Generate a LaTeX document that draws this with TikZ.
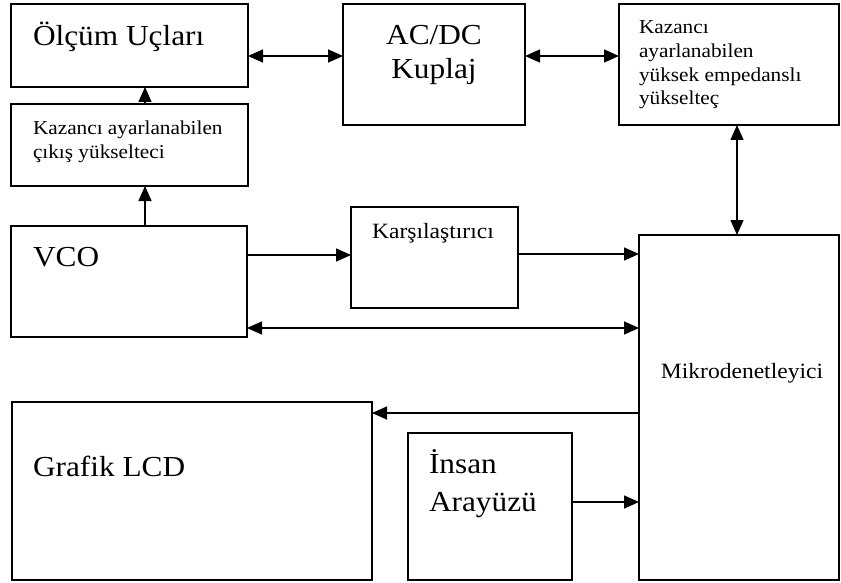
\documentclass[tikz,border=0pt]{standalone}
\usepackage{fontspec}
\setmainfont[FakeStretch=1.08]{Liberation Serif}
\usetikzlibrary{arrows.meta}

\tikzset{
  box/.style={draw, line width=1.5pt, rectangle, inner sep=0pt, outer sep=0pt},
  txt/.style={inner sep=0pt, outer sep=0pt},
  big/.style={txt, font=\fontsize{29}{34}\selectfont},
  mid/.style={txt, font=\fontsize{21.8}{25}\selectfont},
  small/.style={txt, font=\fontsize{19.7}{24}\selectfont},
  tip/.tip={Triangle[length=15pt,width=13pt]},
  arr/.style={-tip, line width=1.5pt},
  darr/.style={tip-tip, line width=1.5pt}
}

\begin{document}
\begin{tikzpicture}[x=1pt,y=-1pt]
\useasboundingbox (0,0) rectangle (841,583);

% blocks
\node[box, minimum width=237, minimum height=83]  (olcum) at (129.5,45.5) {};
\node[box, minimum width=237, minimum height=82]  (cikis) at (129.5,145) {};
\node[box, minimum width=182, minimum height=121] (acdc)  at (434,64.5) {};
\node[box, minimum width=220, minimum height=121] (yuk)   at (729,64.5) {};
\node[box, minimum width=236, minimum height=111] (vco)   at (129,281.5) {};
\node[box, minimum width=167, minimum height=101] (kars)  at (434.5,257.5) {};
\node[box, minimum width=200, minimum height=345] (mikro) at (739,407.5) {};
\node[box, minimum width=360, minimum height=178] (lcd)   at (192,491) {};
\node[box, minimum width=164, minimum height=147] (insan) at (490,506.5) {};

% labels
\node[big, anchor=base west] (olcumT) at (33,46) {Ölçüm Uçları};
\node[small, anchor=base west] (cikisT1) at (33,135) {Kazancı ayarlanabilen};
\node[small, anchor=base west] (cikisT2) at (33,159) {çıkış yükselteci};
\node[big, anchor=base] (acdcT1) at (434,45) {AC/DC};
\node[big, anchor=base] (acdcT2) at (434,79) {Kuplaj};
\node[small, anchor=base west] (yukT1) at (639,34) {Kazancı};
\node[small, anchor=base west] (yukT2) at (639,58) {ayarlanabilen};
\node[small, anchor=base west] (yukT3) at (639,82) {yüksek empedanslı};
\node[small, anchor=base west] (yukT4) at (639,105) {yükselteç};
\node[big, anchor=base west] (vcoT) at (33,266) {VCO};
\node[mid, anchor=base] (karsT) at (433,238) {Karşılaştırıcı};
\node[mid, anchor=base] (mikroT) at (742,378) {Mikrodenetleyici};
\node[big, anchor=base west] (lcdT) at (33,476) {Grafik LCD};
\node[big, anchor=base west] (insanT1) at (429,473) {İnsan};
\node[big, anchor=base west] (insanT2) at (429,511) {Arayüzü};

% connections
\draw[darr] (olcum.east |- 0,56) -- (acdc.west |- 0,56);
\draw[darr] (acdc.east |- 0,56) -- (yuk.west |- 0,56);
\draw[arr] (cikis.north -| 145,0) -- (olcum.south -| 145,0);
\draw[arr] (vco.north -| 145,0) -- (cikis.south -| 145,0);
\draw[darr] (yuk.south -| 737,0) -- (mikro.north -| 737,0);
\draw[arr] (vco.east |- 0,255) -- (kars.west |- 0,255);
\draw[arr] (kars.east |- 0,254) -- (mikro.west |- 0,254);
\draw[darr] (vco.east |- 0,328) -- (mikro.west |- 0,328);
\draw[arr] (mikro.west |- 0,413) -- (lcd.east |- 0,413);
\draw[arr] (insan.east |- 0,502) -- (mikro.west |- 0,502);
\end{tikzpicture}
\end{document}
